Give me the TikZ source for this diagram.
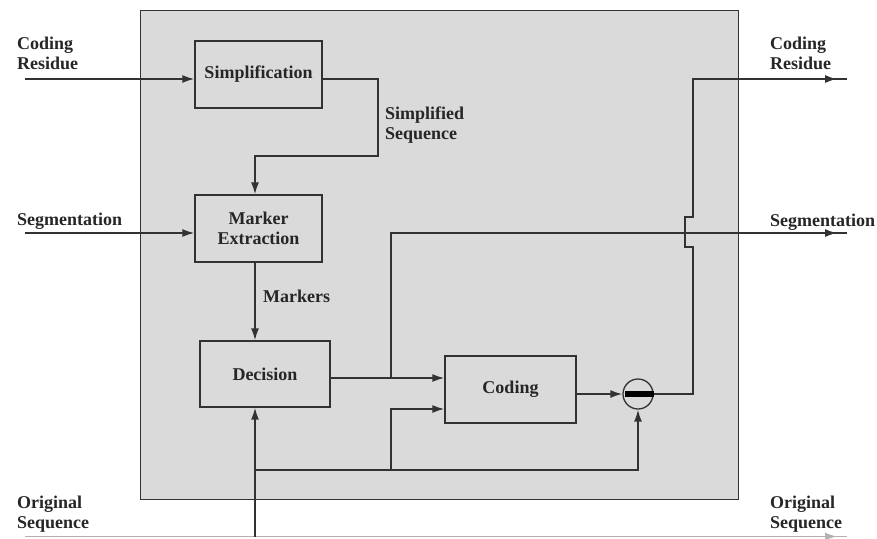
\documentclass[tikz,border=0pt]{standalone}
\usepackage{fontspec}
\setmainfont{Liberation Serif}
\usetikzlibrary{arrows.meta,decorations.markings,calc}
\definecolor{bggray}{RGB}{218,218,218}
\definecolor{edgegray}{RGB}{50,50,50}
\tikzset{
  lbl/.style={font=\fontsize{18}{19.5}\selectfont\bfseries, inner sep=0pt, align=left, text=black!85},
  blk/.style={draw=edgegray, line width=1.4pt, fill=bggray, font=\fontsize{18}{19.5}\selectfont\bfseries, align=center, text=black!85, inner sep=0pt},
  wire/.style={draw=edgegray, line width=1.7pt},
  tip/.style={-{Latex[length=12pt,width=8pt]}},
  endtip/.style={postaction={decorate}, decoration={markings, mark=at position -10pt with {\arrow{Latex[length=12pt,width=8pt]}}}},
}
\begin{document}
\begin{tikzpicture}[x=1pt,y=-1pt]
\useasboundingbox (0,0) rectangle (877,538);
% outer grey panel
\node[draw=edgegray, line width=1.4pt, fill=bggray, minimum width=598pt, minimum height=489pt, anchor=north west, inner sep=0pt] (panel) at (140,10) {};

% blocks
\node[blk, minimum width=127pt, minimum height=67pt] (simp) at (258.5,74.5) {Simplification};
\node[blk, minimum width=127pt, minimum height=67pt] (marker) at (258.5,228.5) {Marker\\Extraction};
\node[blk, minimum width=130pt, minimum height=66pt] (dec) at (265,374) {Decision};
\node[blk, minimum width=131pt, minimum height=67pt] (cod) at (510.5,389.5) {Coding};
\node[draw=edgegray, line width=1.3pt, fill=bggray, circle, minimum size=30pt, inner sep=0pt] (sub) at (638,394) {};
\fill[black] ($(sub.west)+(3,-2.6)$) rectangle ($(sub.east)+(0,2.6)$);

% free end coordinates
\coordinate (crin) at (25,79);
\coordinate (segin) at (25,233);
\coordinate (osin) at (25,536.5);
\coordinate (osout) at (847,536.5);
\coordinate (crout) at (847,79);
\coordinate (segout) at (847,233);
\coordinate (jA) at (391,378);
\coordinate (jB) at (255,470);
\coordinate (jC) at (391,470);
\coordinate (jO) at (255,536.5);

% inputs
\draw[wire, tip] (crin) -- (crin -| simp.west);
\draw[wire, tip] (segin) -- (segin -| marker.west);
% simplification -> marker extraction
\draw[wire, tip] (simp.east |- crin) -- (378,79) -- (378,156) -- (255,156) -- (marker.north -| jB);
% marker -> decision
\draw[wire, tip] (marker.south -| jB) -- (dec.north -| jB);
% original sequence
\draw[draw=black!30, line width=1.4pt, endtip] (osin) -- (osout);
\draw[wire, tip] (jO) -- (dec.south -| jO);
\draw[wire, tip] (jB) -- (sub.south |- jB) -- (sub.south);
\draw[wire, tip] (jC) -- (391,409) -- (cod.west |- 0,409);
% decision -> coding
\draw[wire, tip] (dec.east |- jA) -- (cod.west |- jA);
% segmentation out
\draw[wire, endtip] (jA) -- (391,233) -- (segout);
% coding -> subtractor
\draw[wire, tip] (cod.east |- sub) -- (sub.west);
% residue out with hop
\draw[wire, endtip] (sub.east) -- (693,394) -- (693,247) -- (685,247) -- (685,217) -- (693,217) -- (693,79) -- (crout);

% labels
\node[lbl, anchor=north west] (l1) at (17,37) {Coding\\Residue};
\node[lbl, anchor=base west] (l2) at (17,225) {Segmentation};
\node[lbl, anchor=north west] (l3) at (17,496) {Original\\Sequence};
\node[lbl, anchor=north west] (r1) at (770,37) {Coding\\Residue};
\node[lbl, anchor=base west] (r2) at (770,226) {Segmentation};
\node[lbl, anchor=north west] (r3) at (770,496) {Original\\Sequence};
\node[lbl, anchor=north west] (ss) at (385,107) {Simplified\\Sequence};
\node[lbl, anchor=base west] (mk) at (263,302) {Markers};
\end{tikzpicture}
\end{document}
